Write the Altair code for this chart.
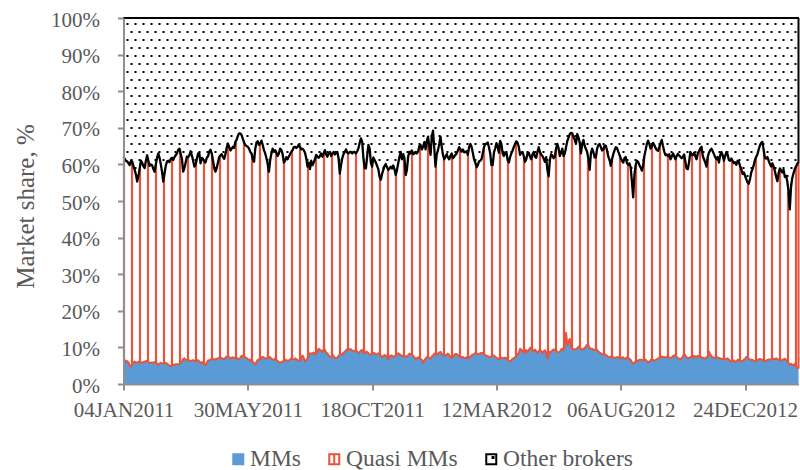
import numpy as np
import pandas as pd
import altair as alt

# ---- data -------------------------------------------------------------
series_names = ["MMs", "Quasi MMs", "Other brokers"]
tick_days = [0, 100, 200, 300, 400, 500]
tick_labels = ["04JAN2011", "30MAY2011", "18OCT2011", "12MAR2012", "06AUG2012", "24DEC2012"]
y_ticks = list(range(0, 101, 10))

# daily market share of market makers (%)
mms_share = [
    5.8, 6.1, 6.4, 6.2, 5.9, 5.0, 4.7, 5.6, 5.9, 6.1,
    5.8, 5.9, 6.0, 6.1, 5.9, 5.9, 6.0, 6.1, 6.2, 6.4,
    6.0, 5.8, 5.8, 5.9, 5.8, 6.0, 6.0, 5.5, 5.2, 5.6,
    5.8, 5.6, 5.6, 5.8, 5.7, 5.6, 5.2, 5.0, 4.9, 5.0,
    5.2, 5.3, 5.4, 5.4, 5.4, 5.5, 5.8, 6.2, 6.8, 7.0,
    6.6, 6.5, 6.7, 6.4, 6.2, 6.4, 6.5, 6.3, 6.3, 6.4,
    6.5, 6.1, 5.8, 6.0, 5.8, 5.3, 5.2, 5.8, 6.4, 6.5,
    6.6, 7.0, 6.9, 6.6, 6.8, 6.9, 7.0, 7.1, 7.3, 7.1,
    6.9, 6.8, 7.2, 7.5, 7.7, 7.3, 7.0, 7.2, 7.3, 7.1,
    7.2, 7.2, 6.7, 6.8, 7.2, 7.7, 7.6, 7.3, 7.3, 7.1,
    6.8, 6.6, 6.6, 6.2, 6.1, 5.7, 5.3, 6.0, 6.6, 6.7,
    6.6, 7.2, 7.4, 7.2, 7.0, 7.0, 7.3, 7.4, 7.3, 6.9,
    6.7, 6.6, 7.0, 6.6, 6.3, 6.0, 5.8, 6.0, 6.1, 6.4,
    6.6, 6.5, 6.3, 6.4, 6.7, 7.0, 6.8, 6.7, 7.0, 6.8,
    6.5, 6.4, 6.3, 7.2, 7.8, 7.1, 6.2, 6.5, 7.0, 7.8,
    8.4, 8.3, 8.4, 8.6, 8.0, 8.5, 9.0, 9.6, 9.3, 9.1,
    8.8, 9.4, 9.3, 8.6, 8.3, 7.8, 7.5, 7.3, 8.2, 7.6,
    7.1, 7.1, 7.2, 7.6, 8.2, 8.2, 8.0, 8.6, 8.8, 9.2,
    9.5, 9.3, 9.5, 9.5, 9.1, 8.9, 9.1, 9.3, 8.8, 8.4,
    8.8, 9.1, 9.3, 8.8, 8.4, 8.8, 8.8, 8.4, 8.1, 8.0,
    8.4, 8.5, 8.4, 8.0, 8.2, 8.4, 8.0, 7.8, 7.3, 7.7,
    7.9, 7.8, 7.3, 6.7, 7.5, 7.8, 7.8, 7.4, 7.5, 7.9,
    8.2, 8.4, 8.2, 7.8, 7.7, 7.8, 7.7, 7.4, 7.6, 7.8,
    8.3, 8.2, 8.0, 7.7, 7.3, 6.8, 7.1, 7.3, 7.0, 6.8,
    6.6, 5.8, 6.4, 7.0, 7.3, 7.5, 7.1, 6.8, 7.5, 7.8,
    8.3, 8.1, 8.0, 8.3, 8.6, 8.8, 8.2, 7.9, 7.7, 7.8,
    8.0, 8.3, 7.9, 7.3, 7.1, 7.3, 7.8, 8.2, 8.2, 7.8,
    7.7, 7.5, 7.3, 7.4, 7.1, 7.1, 7.3, 7.0, 7.3, 7.5,
    7.8, 8.0, 8.2, 8.5, 8.4, 8.0, 8.2, 8.4, 8.5, 8.5,
    8.2, 7.9, 7.7, 7.6, 7.4, 7.3, 7.6, 7.8, 7.8, 7.4,
    7.2, 7.0, 6.8, 6.9, 7.2, 7.1, 7.0, 7.2, 7.1, 6.7,
    6.3, 6.2, 6.5, 6.9, 7.1, 7.3, 7.7, 8.1, 8.4, 9.6,
    9.4, 8.9, 8.5, 8.9, 9.3, 8.6, 9.3, 9.8, 10.0, 9.3,
    8.9, 9.4, 8.9, 8.5, 9.0, 9.3, 8.9, 8.5, 8.9, 9.2,
    8.6, 7.0, 8.2, 8.8, 8.7, 9.2, 9.4, 9.4, 9.2, 8.8,
    8.6, 8.8, 9.4, 9.6, 9.3, 10.9, 14.0, 10.7, 11.5, 12.3,
    10.0, 9.7, 9.4, 9.5, 9.5, 9.8, 10.2, 9.8, 9.6, 9.3,
    9.6, 9.8, 10.3, 10.8, 10.6, 9.8, 9.6, 9.6, 9.3, 9.4,
    9.5, 9.3, 8.9, 8.6, 8.4, 8.1, 8.0, 8.2, 7.9, 7.7,
    7.4, 7.3, 7.5, 7.4, 7.3, 7.1, 7.2, 7.3, 7.3, 7.2,
    7.0, 7.2, 7.3, 6.9, 6.9, 7.3, 7.1, 6.9, 6.6, 5.9,
    5.6, 5.9, 6.1, 6.3, 6.4, 6.6, 6.6, 6.6, 6.5, 6.6,
    6.7, 6.2, 5.9, 6.1, 6.5, 6.7, 6.6, 6.4, 6.5, 6.7,
    7.0, 7.1, 7.3, 7.5, 7.4, 7.3, 7.3, 7.4, 7.5, 7.2,
    7.1, 7.3, 7.6, 7.8, 7.9, 7.4, 7.1, 6.9, 6.7, 7.0,
    7.5, 8.2, 7.8, 7.3, 7.1, 7.1, 7.3, 7.6, 7.1, 7.7,
    7.5, 7.4, 7.7, 7.4, 7.5, 7.3, 7.1, 7.1, 6.9, 7.3,
    7.5, 8.8, 8.1, 7.5, 7.3, 7.2, 7.1, 7.1, 7.3, 7.1,
    7.0, 6.8, 6.9, 6.9, 6.7, 6.9, 7.0, 6.6, 6.3, 6.1,
    6.4, 6.5, 6.0, 6.2, 6.6, 6.6, 6.3, 6.1, 6.3, 6.6,
    6.9, 7.4, 7.5, 6.9, 6.6, 6.6, 6.6, 6.3, 6.2, 6.4,
    6.6, 6.7, 6.9, 6.7, 6.6, 6.3, 6.2, 6.4, 6.6, 6.7,
    6.7, 6.7, 6.9, 6.9, 6.8, 7.0, 6.8, 6.7, 6.5, 6.4,
    6.6, 6.7, 6.9, 6.6, 6.3, 5.7, 5.2, 5.5, 5.2, 5.0,
    5.5, 4.9, 4.5, 4.2,
]

# daily combined share of MMs and quasi MMs (%); other brokers hold the rest
mms_quasi_share = [
    62.1, 61.5, 61.0, 60.8, 60.3, 59.8, 61.0, 60.8, 59.5, 58.5,
    57.2, 55.3, 56.8, 58.8, 61.0, 60.5, 59.5, 59.0, 61.0, 62.5,
    61.0, 59.6, 60.0, 59.8, 58.8, 58.0, 60.0, 61.8, 63.0, 61.8,
    60.0, 58.0, 55.3, 57.5, 59.6, 60.8, 61.0, 60.6, 61.5, 61.8,
    61.2, 62.0, 62.5, 63.0, 64.0, 64.3, 63.0, 61.5, 58.0, 59.0,
    60.5, 62.1, 62.0, 62.5, 63.6, 62.5, 61.0, 59.4, 59.8, 61.5,
    63.0, 63.0, 60.3, 61.8, 61.5, 60.8, 60.5, 61.8, 62.2, 63.5,
    64.0, 63.0, 61.0, 59.0, 58.0, 59.0, 60.5, 62.0, 62.5, 62.8,
    62.0, 61.5, 62.8, 64.5, 65.7, 64.8, 63.8, 64.3, 64.8, 64.5,
    66.2, 66.7, 67.8, 68.5, 68.5, 68.0, 67.0, 66.0, 65.3, 65.0,
    64.8, 64.3, 63.4, 63.0, 61.4, 60.7, 64.3, 66.0, 66.3, 65.3,
    65.8, 66.5, 65.3, 63.9, 63.0, 61.7, 60.1, 58.0, 61.2, 63.0,
    64.3, 63.4, 63.9, 63.2, 62.3, 63.0, 64.3, 64.0, 62.8, 60.5,
    61.0, 62.0, 61.4, 62.1, 62.8, 63.4, 63.9, 64.7, 64.8, 64.5,
    64.8, 65.4, 64.8, 64.1, 64.3, 63.9, 63.2, 61.7, 59.4, 60.5,
    58.7, 61.0, 59.8, 60.5, 61.4, 62.6, 62.1, 61.8, 62.3, 63.0,
    62.1, 63.0, 63.9, 62.7, 62.1, 63.0, 63.4, 62.3, 63.0, 63.4,
    62.7, 63.2, 63.4, 61.7, 57.5, 59.8, 61.7, 62.8, 63.4, 64.1,
    63.2, 63.0, 63.4, 63.4, 63.0, 63.4, 63.4, 63.0, 63.6, 64.4,
    65.9, 67.1, 66.2, 61.7, 58.9, 58.9, 62.1, 65.3, 64.4, 60.5,
    59.4, 61.9, 61.2, 60.5, 59.6, 58.7, 56.7, 55.8, 57.4, 58.5,
    59.6, 60.1, 59.2, 58.5, 58.9, 59.4, 58.9, 59.7, 58.7, 57.1,
    58.5, 60.3, 62.1, 63.4, 61.4, 62.8, 61.7, 57.1, 58.5, 62.1,
    63.5, 63.0, 63.8, 62.8, 63.0, 63.4, 63.0, 63.5, 65.0, 65.3,
    64.1, 64.8, 66.1, 64.1, 66.4, 67.6, 64.8, 62.6, 67.6, 69.2,
    64.4, 59.4, 62.8, 63.9, 65.6, 67.6, 64.8, 62.6, 61.4, 62.1,
    62.8, 61.9, 61.4, 62.3, 63.0, 61.7, 62.1, 62.6, 63.0, 63.8,
    64.7, 64.1, 63.5, 64.1, 63.3, 63.4, 63.6, 62.6, 64.7, 65.6,
    64.8, 63.2, 61.4, 60.5, 59.2, 59.8, 60.8, 61.0, 61.4, 63.0,
    64.7, 65.6, 65.6, 66.0, 64.7, 63.0, 59.8, 59.8, 63.2, 64.4,
    65.8, 64.7, 63.2, 66.4, 65.6, 63.0, 62.3, 63.2, 63.4, 61.2,
    60.5, 62.0, 63.0, 63.8, 64.8, 65.6, 66.3, 65.9, 64.8, 62.6,
    63.2, 63.4, 62.3, 60.7, 61.4, 63.0, 63.2, 62.1, 61.4, 62.7,
    63.4, 62.1, 61.8, 63.4, 64.7, 63.4, 62.7, 62.3, 61.6, 60.7,
    62.0, 58.5, 56.7, 61.2, 62.8, 62.4, 61.7, 62.1, 64.4, 65.6,
    64.4, 62.3, 63.2, 64.3, 62.3, 63.0, 64.7, 66.4, 67.3, 68.3,
    68.6, 68.5, 67.6, 66.7, 65.6, 68.3, 67.4, 66.0, 63.0, 65.6,
    66.7, 65.1, 64.2, 63.4, 61.4, 58.5, 63.0, 64.3, 63.4, 61.9,
    61.9, 64.3, 65.3, 65.6, 64.7, 63.8, 64.1, 65.1, 65.1, 63.8,
    62.1, 61.2, 59.6, 61.4, 62.8, 63.8, 64.7, 64.5, 63.5, 62.6,
    61.7, 61.0, 60.5, 61.7, 62.0, 60.3, 59.9, 60.3, 59.2, 55.3,
    51.0, 57.1, 59.8, 61.0, 60.7, 59.8, 59.2, 58.3, 59.6, 62.3,
    63.9, 65.6, 66.5, 65.6, 64.3, 64.8, 65.9, 65.3, 64.5, 63.9,
    63.7, 64.7, 65.8, 66.7, 65.0, 63.5, 62.5, 62.7, 62.3, 62.8,
    61.4, 62.1, 63.0, 62.3, 61.4, 62.3, 62.9, 62.4, 62.1, 61.7,
    62.0, 62.7, 60.7, 58.9, 58.7, 60.7, 63.4, 62.7, 62.5, 63.2,
    62.3, 61.4, 63.0, 63.6, 64.4, 64.8, 62.3, 61.4, 60.5, 59.4,
    62.1, 63.2, 63.9, 64.3, 63.6, 62.8, 62.0, 61.4, 62.0, 60.5,
    62.5, 63.4, 62.5, 61.0, 62.3, 63.4, 62.7, 61.2, 61.0, 61.6,
    61.0, 60.3, 60.6, 59.9, 61.0, 60.7, 59.6, 58.7, 57.4, 57.8,
    56.9, 56.0, 55.1, 54.7, 56.0, 57.8, 58.7, 59.8, 61.2, 62.1,
    62.8, 64.1, 65.2, 65.9, 66.1, 63.9, 61.7, 61.6, 62.0, 61.0,
    60.1, 59.4, 60.3, 59.4, 58.2, 56.6, 55.4, 57.6, 58.9, 58.5,
    57.8, 58.5, 56.6, 56.9, 55.3, 52.6, 47.7, 53.9, 56.3, 57.6,
    58.7, 59.4, 60.1, 60.7,
]

# ---- styling ------------------------------------------------------------
FONT = "Liberation Serif"
TEXT = "#595959"
AXIS_GRAY = "#8F8F8F"
BLUE = "#5B9BD5"
RED = "#E8533B"
BLACK = "#000000"

W, H = 675, 366
N = len(mms_share)
LAST = N - 1
px_per_day = W / LAST
px_per_pct = H / 100.0

df = pd.DataFrame({"day": np.arange(N), "mms": mms_share, "top": mms_quasi_share})
df["quasi"] = df["top"] - df["mms"]
df["others"] = 100 - df["top"]

# vertical hatch of the quasi-MM band: one stroke every 8 px
hatch_day = np.arange(0.5, W, 8.0) / px_per_day
hatch_row = np.clip(np.round(hatch_day).astype(int), 0, LAST)
hatch = pd.DataFrame({
    "day": hatch_day,
    "mms": df["mms"].values[hatch_row],
    "top": df["top"].values[hatch_row],
})

# dotted texture of the other-brokers band (staggered 8 x 8 px lattice)
dot_rows = []
for r, ypx in enumerate(np.arange(6.0, H, 8.0)):
    for xpx in np.arange(4.0 + (r % 2) * 4.0, W, 8.0):
        dot_rows.append((xpx / px_per_day, 100 - ypx / px_per_pct))
dots = pd.DataFrame(dot_rows, columns=["day", "pct"])

# ---- encodings ----------------------------------------------------------
label_js = "[" + ",".join(f"'{s}'" for s in tick_labels) + "]"
days_js = "[" + ",".join(str(d) for d in tick_days) + "]"

x_axis = alt.Axis(
    values=tick_days, tickCount=len(tick_days) + 1,
    labelExpr=f"{label_js}[indexof({days_js}, datum.value)]",
    title=None, grid=False, domainColor=AXIS_GRAY, domainWidth=2,
    tickColor=AXIS_GRAY, tickWidth=2, tickSize=6, labelPadding=9,
    labelFont=FONT, labelFontSize=21, labelColor=TEXT, labelFlush=False,
    labelOverlap=False, zindex=1,
)
# tickCount must not be below the number of explicit values, or every
# other tick gets thinned out
y_axis = alt.Axis(
    values=y_ticks, tickCount=len(y_ticks) + 1, labelExpr="datum.value + '%'",
    title="Market share, %",
    grid=False, domainColor=AXIS_GRAY, domainWidth=2, tickColor=AXIS_GRAY,
    tickWidth=2, tickSize=6, labelPadding=18, labelOffset=2,
    labelOverlap=False, labelFlush=False,
    labelFont=FONT, labelFontSize=21, labelColor=TEXT,
    titleFont=FONT, titleFontSize=25, titleColor=TEXT, titleFontWeight="normal",
    titleX=-98, titleY=188, titleBaseline="middle", titleAngle=270, zindex=1,
)
x_scale = alt.Scale(domain=[0, LAST], nice=False, zero=False)
y_scale = alt.Scale(domain=[0, 100], nice=False)


def X(field):
    return alt.X(f"{field}:Q", scale=x_scale, axis=x_axis)


def Y(field):
    return alt.Y(f"{field}:Q", scale=y_scale, axis=y_axis)


base = alt.Chart(df)

dot_layer = alt.Chart(dots).mark_square(size=4, color=BLACK, opacity=1).encode(
    x=X("day"), y=Y("pct"))
cover = base.mark_area(color="white", opacity=1).encode(
    x=X("day"), y=Y("top"), y2=alt.datum(0))
mms_area = base.mark_area(color=BLUE, opacity=1).encode(
    x=X("day"), y=Y("mms"), y2=alt.datum(0))
hatch_layer = alt.Chart(hatch).mark_rule(color=RED, strokeWidth=2.2).encode(
    x=X("day"), y=Y("mms"), y2="top")
quasi_edge = base.mark_line(color=RED, strokeWidth=2, strokeJoin="round").encode(
    x=X("day"), y=Y("mms"))
right_red = base.transform_filter(f"datum.day == {LAST}").mark_rule(
    color=RED, strokeWidth=2).encode(x=X("day"), y=Y("mms"), y2="top")
other_edge = base.mark_line(color=BLACK, strokeWidth=2.3, strokeJoin="round").encode(
    x=X("day"), y=Y("top"))
top_border = base.mark_rule(color=BLACK, strokeWidth=2).encode(y=alt.datum(100))
right_black = base.transform_filter(f"datum.day == {LAST}").mark_rule(
    color=BLACK, strokeWidth=2).encode(x=X("day"), y=Y("top"), y2=alt.datum(100))

# legend swatches: solid, hatched and dotted squares
sq = "M-1,-1H1V1H-1Z"
legend_shapes = [sq, sq + "M0,-1V1", sq + "M0.25,-0.45H0.45V-0.25H0.25Z"]
legend = alt.Legend(
    title=None, orient="none", direction="horizontal", legendX=103, legendY=429,
    symbolSize=100, symbolStrokeWidth=2, symbolOpacity=1,
    labelFont=FONT, labelFontSize=23.5, labelColor=TEXT, labelOffset=0,
    columnPadding=21,
)
legend_layer = alt.Chart(pd.DataFrame({"series": series_names})).transform_filter(
    "false").mark_point(opacity=1, strokeWidth=2).encode(
    x=X("series_x"), y=Y("series_y"),
    fill=alt.Fill("series:N", scale=alt.Scale(domain=series_names,
                  range=[BLUE, "white", "white"]), legend=legend),
    stroke=alt.Stroke("series:N", scale=alt.Scale(domain=series_names,
                      range=[BLUE, RED, BLACK]), legend=legend),
    shape=alt.Shape("series:N", scale=alt.Scale(domain=series_names,
                    range=legend_shapes), legend=legend),
)

chart = alt.layer(
    dot_layer, cover, mms_area, hatch_layer, quasi_edge, right_red,
    other_edge, top_border, right_black, legend_layer,
).properties(
    width=W, height=H,
    autosize=alt.AutoSizeParams(type="none"),
    padding={"left": 123.5, "top": 18, "right": 800 - 123.5 - W, "bottom": 470 - 18 - H},
    background="white",
).configure_view(stroke=None)

chart.save("out.html", embed_options={"renderer": "svg", "actions": False})
